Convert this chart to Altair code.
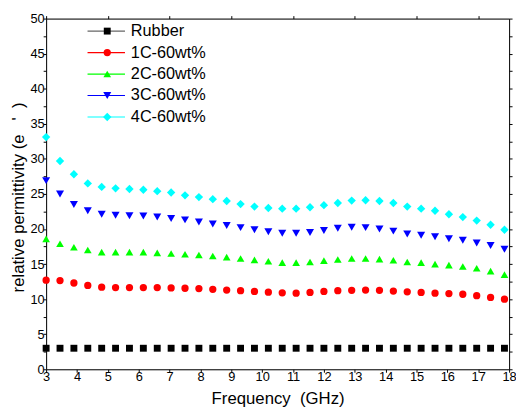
import altair as alt
import pandas as pd

freq = [3.0, 3.45, 3.9, 4.35, 4.8, 5.25, 5.7, 6.15, 6.6, 7.05, 7.5, 7.95, 8.4, 8.85,
        9.3, 9.75, 10.2, 10.65, 11.1, 11.55, 12.0, 12.45, 12.9, 13.35, 13.8, 14.25,
        14.7, 15.15, 15.6, 16.05, 16.5, 16.95, 17.4, 17.85]

rubber = [3.0, 3.0, 3.0, 3.0, 3.0, 3.0, 3.0, 3.0, 3.0, 3.0, 3.0, 3.0, 3.0, 3.0,
          3.0, 3.0, 3.0, 3.0, 3.0, 3.0, 3.0, 3.0, 3.0, 3.0, 3.0, 3.0, 3.0, 3.0,
          3.0, 3.0, 3.0, 3.0, 3.0, 3.0]

c1 = [12.7, 12.65, 12.3, 11.95, 11.7, 11.65, 11.65, 11.65, 11.65, 11.6, 11.55, 11.5,
      11.4, 11.3, 11.2, 11.1, 11.0, 10.9, 10.85, 10.95, 11.1, 11.2, 11.25, 11.3,
      11.25, 11.15, 11.05, 10.95, 10.85, 10.8, 10.7, 10.5, 10.25, 10.0]

c2 = [18.6, 17.9, 17.4, 17.0, 16.7, 16.7, 16.7, 16.7, 16.6, 16.5, 16.4, 16.3,
      16.15, 16.0, 15.8, 15.6, 15.4, 15.2, 15.2, 15.3, 15.5, 15.65, 15.8, 15.8,
      15.7, 15.55, 15.3, 15.2, 15.0, 14.85, 14.65, 14.4, 14.0, 13.5]

c3 = [26.9, 25.0, 23.5, 22.6, 22.1, 21.95, 21.9, 21.85, 21.7, 21.5, 21.3, 21.0,
      20.7, 20.5, 20.2, 19.9, 19.6, 19.4, 19.4, 19.5, 19.8, 20.1, 20.25, 20.2,
      20.0, 19.7, 19.3, 19.1, 18.9, 18.6, 18.4, 18.0, 17.65, 17.1]

c4 = [33.1, 29.7, 27.8, 26.5, 26.0, 25.8, 25.7, 25.6, 25.4, 25.2, 24.8, 24.55,
      24.25, 24.0, 23.55, 23.2, 23.0, 22.9, 22.9, 23.1, 23.4, 23.7, 24.05, 24.1,
      24.0, 23.7, 23.2, 22.9, 22.6, 22.1, 21.7, 21.2, 20.6, 19.9]

series_names = ["Rubber", "1C-60wt%", "2C-60wt%", "3C-60wt%", "4C-60wt%"]
fill_colors = ["#000000", "#FF0000", "#00FF00", "#0000FF", "#00FFFF"]
line_colors = ["#666666", "#FF0000", "#00FF00", "#0000FF", "#00FFFF"]
shapes = ["square", "circle", "triangle-up", "triangle-down", "diamond"]
sizes = [49, 72, 100, 95, 105]

x_ticks = [3, 4, 5, 6, 7, 8, 9, 10, 11, 12, 13, 14, 15, 16, 17, 18]
x_top_ticks = [3, 5, 7, 9, 11, 13, 15, 17]
y_ticks = [0, 2.5, 5, 7.5, 10, 12.5, 15, 17.5, 20, 22.5, 25, 27.5, 30, 32.5, 35,
           37.5, 40, 42.5, 45, 47.5, 50]

# keys for the legend line segments (distinct domain so the legends don't merge)
line_keys = [n + " line" for n in series_names]

rows = []
for name, key, vals in zip(series_names, line_keys, [rubber, c1, c2, c3, c4]):
    for f, v in zip(freq, vals):
        rows.append({"freq": f, "value": v, "series": name, "series_line": key})
df = pd.DataFrame(rows)

FONT = "Liberation Sans"
x_scale = alt.Scale(domain=[3, 18], nice=False, zero=False)
y_scale = alt.Scale(domain=[0, 50], nice=False, zero=False)

legend_common = dict(
    orient="none", title=None, labelFont=FONT, labelFontSize=16.5,
    labelColor="#000000", padding=0, rowPadding=4.8,
)

LX, LY = 53.8, 4.45

points = alt.Chart(df).mark_point(filled=True, opacity=1, strokeWidth=0).encode(
    x=alt.X("freq:Q", scale=x_scale,
            axis=alt.Axis(orient="bottom", values=x_ticks,
                          title="Frequency\u00a0\u00a0(GHz)",
                          grid=False, tickSize=3, labelPadding=-2, format="d",
                          labelFont=FONT, labelFontSize=13, labelColor="#000",
                          titleFont=FONT, titleFontSize=17, titleFontWeight="normal",
                          titleColor="#000", titlePadding=8,
                          domainColor="#000", tickColor="#000", labelFlush=False)),
    y=alt.Y("value:Q", scale=y_scale,
            axis=alt.Axis(orient="left", values=y_ticks,
                          labelExpr="datum.value % 5 == 0 ? datum.label : ''",
                          title="relative permittivity (e\u00a0\u00a0\u00a0'\u00a0\u00a0)",
                          grid=False, titleY=181,
                          tickSize=3, labelPadding=-1, labelFont=FONT,
                          labelFontSize=13, labelColor="#000", titleFont=FONT,
                          titleFontSize=17, titleFontWeight="normal",
                          titleColor="#000", titlePadding=2,
                          domainColor="#000", tickColor="#000", labelFlush=False)),
    color=alt.Color("series:N", scale=alt.Scale(domain=series_names, range=fill_colors),
                    legend=alt.Legend(legendX=LX, legendY=LY, symbolSize=80,
                                      labelOffset=15.7, symbolStrokeWidth=0,
                                      **legend_common)),
    shape=alt.Shape("series:N", scale=alt.Scale(domain=series_names, range=shapes),
                    legend=alt.Legend(legendX=LX, legendY=LY, symbolSize=80,
                                      labelOffset=15.7, symbolStrokeWidth=0,
                                      **legend_common)),
    size=alt.Size("series:O", scale=alt.Scale(domain=series_names, range=sizes),
                  legend=None),
)

lines = alt.Chart(df).transform_filter("false").mark_line(strokeWidth=1.2).encode(
    x=alt.X("freq:Q", scale=x_scale,
            axis=alt.Axis(orient="top", values=x_top_ticks, labels=False, title=None,
                          grid=False, tickSize=3, domainColor="#000",
                          tickColor="#000")),
    y=alt.Y("value:Q", scale=y_scale,
            axis=alt.Axis(orient="right", values=y_ticks, labels=False, title=None,
                          grid=False, tickSize=3, domainColor="#000",
                          tickColor="#000")),
    stroke=alt.Stroke("series_line:N",
                      scale=alt.Scale(domain=line_keys, range=line_colors),
                      legend=alt.Legend(legendX=LX - 1, legendY=LY, symbolSize=80,
                                        symbolType="M-4.25,0L4.25,0",
                                        symbolStrokeWidth=1.2, labelOffset=3,
                                        labelExpr="''", **legend_common)),
)

chart = alt.layer(lines, points).resolve_axis(
    x="independent", y="independent"
).resolve_scale(
    x="shared", y="shared"
).properties(
    width=470, height=356,
    autosize=alt.AutoSizeParams(type="none"),
    padding={"left": 38.7, "top": 7.7, "right": 7, "bottom": 40},
).configure_view(
    stroke="#000", strokeWidth=1
).configure(background="white")

chart.save("out.html", embed_options={"renderer": "svg", "actions": False})
